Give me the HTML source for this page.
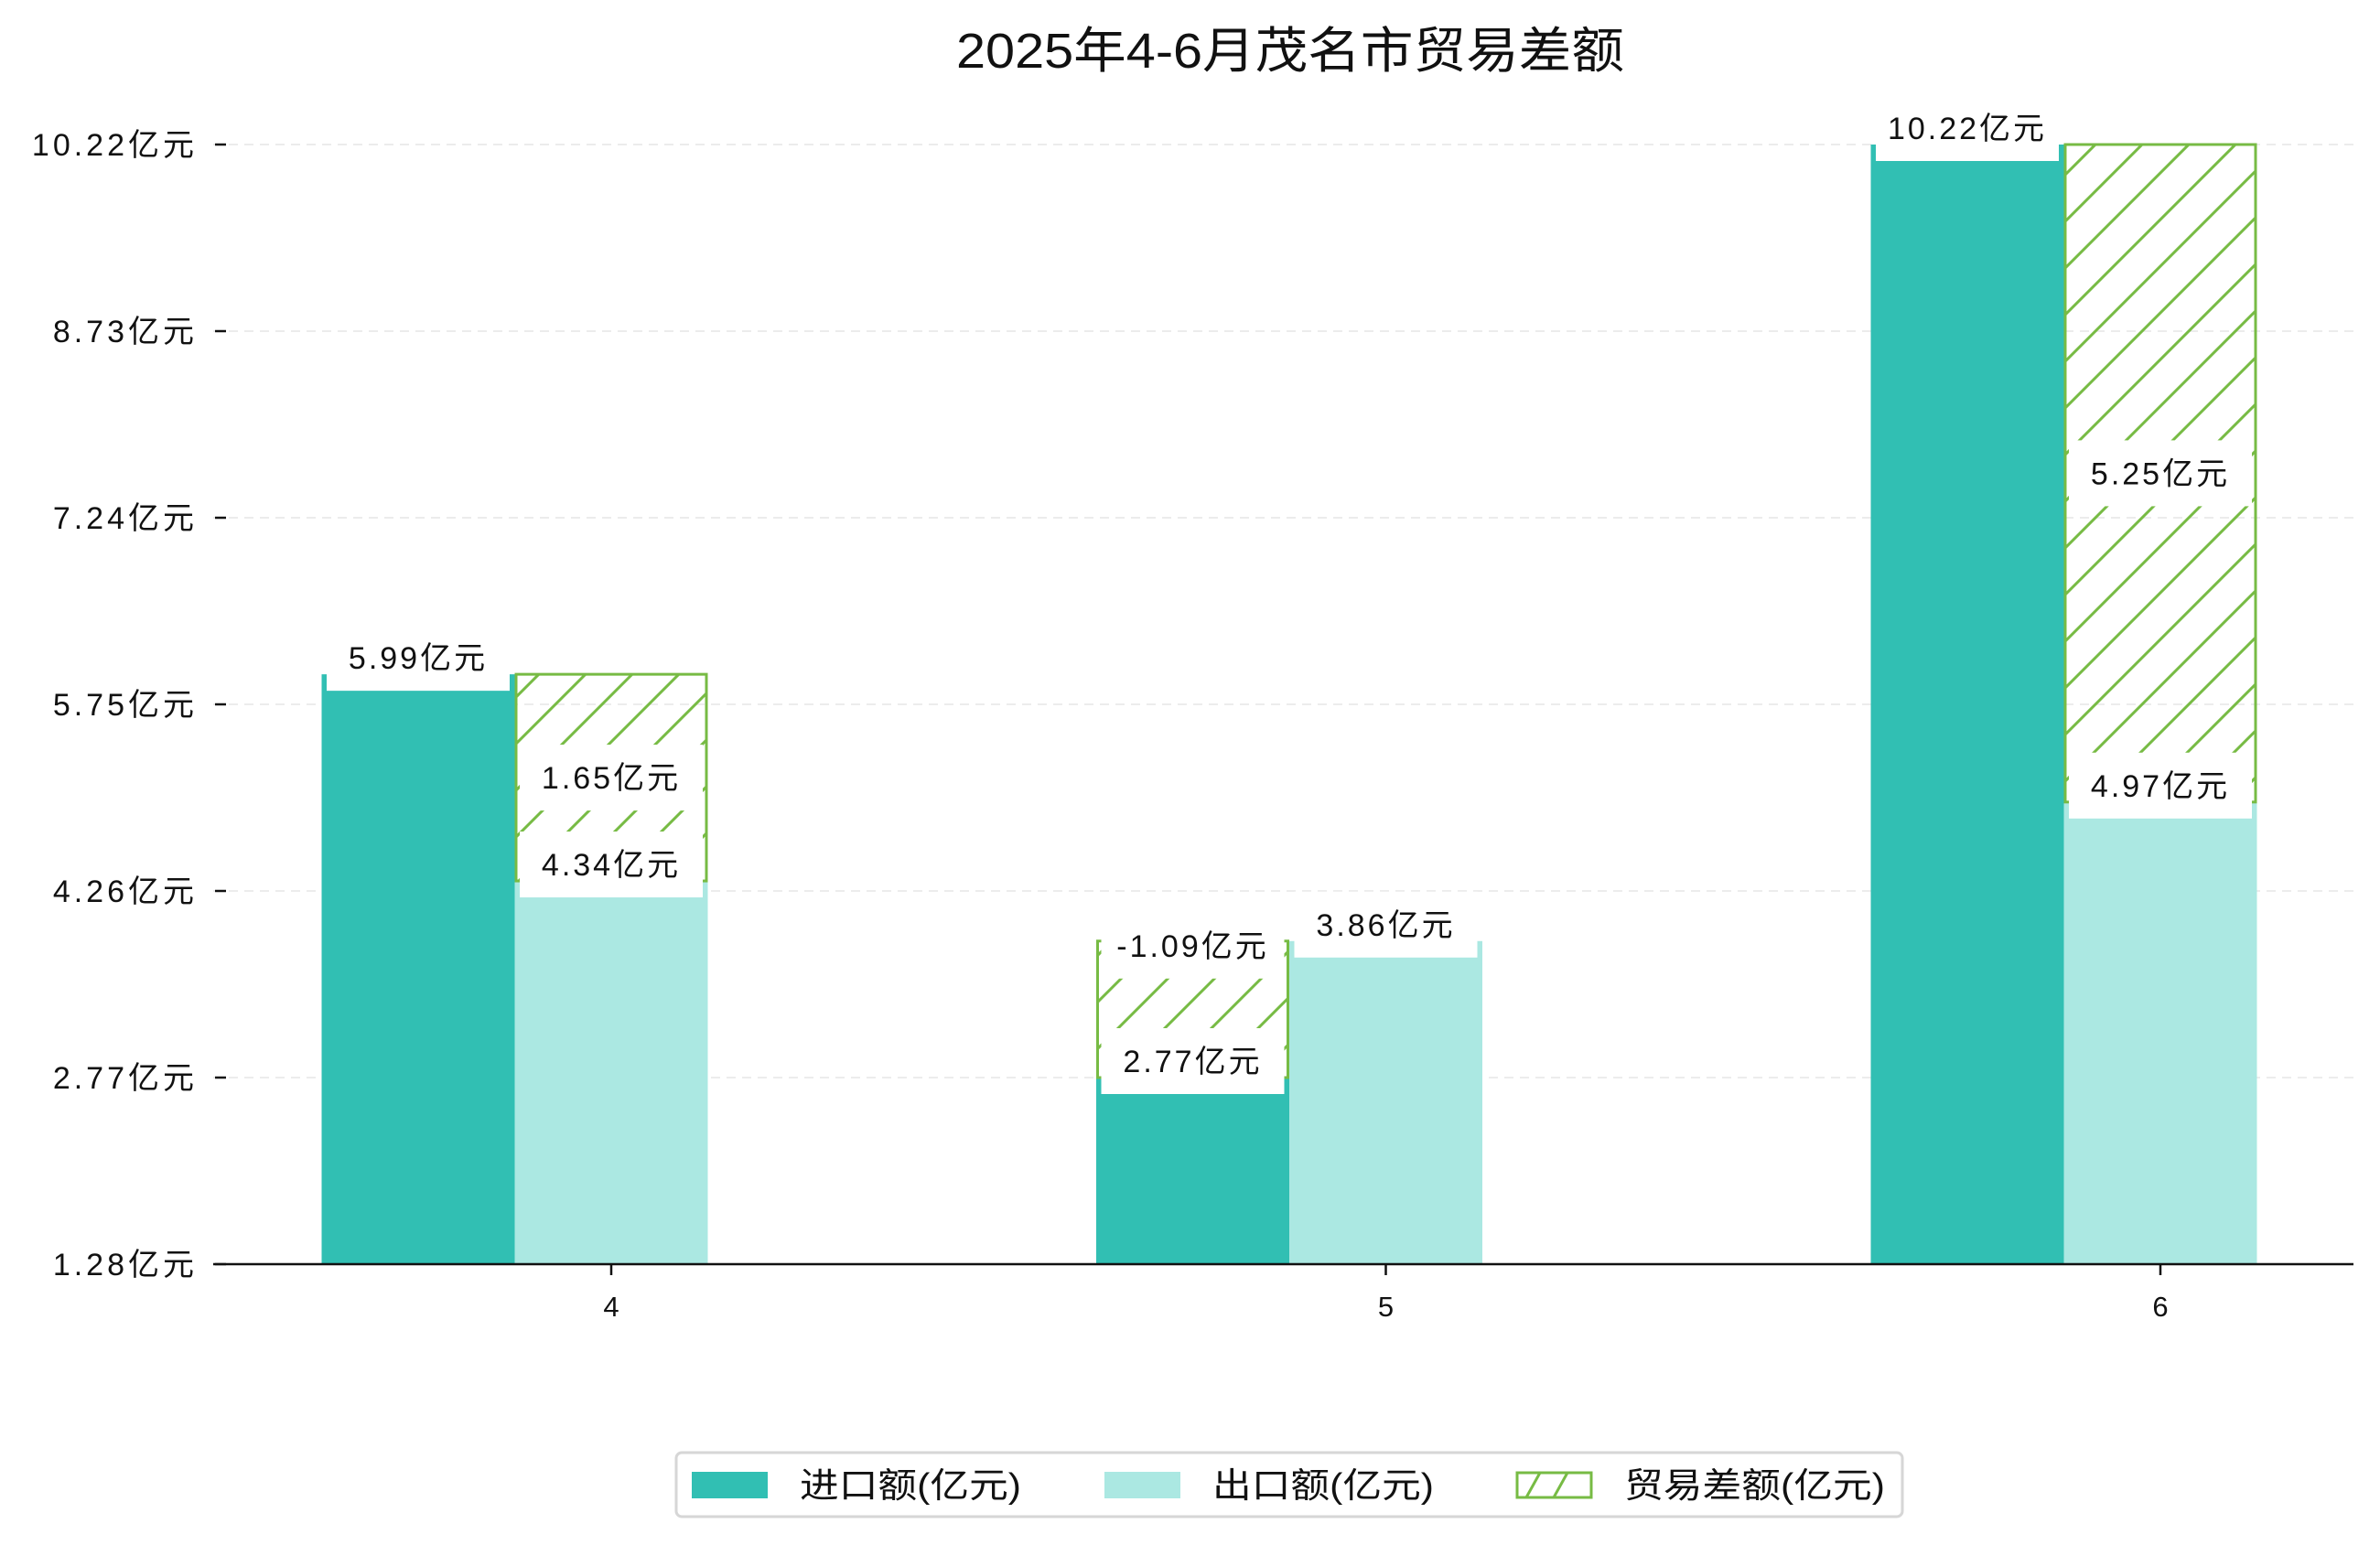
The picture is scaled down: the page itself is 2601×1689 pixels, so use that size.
<!DOCTYPE html>
<html><head><meta charset="utf-8">
<style>
html,body{margin:0;padding:0;background:#fff;}
svg{display:block;}
text{font-family:"Liberation Sans","Noto Sans CJK SC",sans-serif;fill:#111;}
</style></head>
<body>
<svg id="chart" width="2601" height="1689" viewBox="0 0 2601 1689" xmlns="http://www.w3.org/2000/svg">
<defs>
<pattern id="hatch" patternUnits="userSpaceOnUse" width="51" height="51">
<path d="M-5,56 L56,-5 M-5,5 L5,-5 M46,56 L56,46" stroke="#77bb44" stroke-width="3"/>
</pattern>
</defs>
<text x="1410" y="74" font-size="54" text-anchor="middle" textLength="730" lengthAdjust="spacingAndGlyphs">2025年4-6月茂名市贸易差额</text>
<g id="grid"></g>
<g id="bars"></g>
<g id="labels"></g>
<g id="axes"></g>
<g>
<rect x="739" y="1588" width="1340" height="70" rx="6" fill="#fff" stroke="#d6d6d6" stroke-width="3"/>
<rect x="756" y="1609" width="83" height="29" fill="#31bfb3"/>
<text x="874" y="1637" font-size="38" textLength="242" lengthAdjust="spacingAndGlyphs">进口额(亿元)</text>
<rect x="1207" y="1609" width="83" height="29" fill="#abe8e2"/>
<text x="1325" y="1637" font-size="38" textLength="242" lengthAdjust="spacingAndGlyphs">出口额(亿元)</text>
<rect x="1658" y="1610" width="81" height="27" fill="#fff" stroke="#77bb44" stroke-width="3"/>
<path d="M1668,1637 L1683,1610 M1698,1637 L1713,1610" stroke="#77bb44" stroke-width="3"/>
<text x="1775" y="1637" font-size="38" textLength="285" lengthAdjust="spacingAndGlyphs">贸易差额(亿元)</text>
</g>
</svg>
<script>
const months = ['4','5','6'];
const importVals = [5.99, 2.77, 10.22];
const exportVals = [4.34, 3.86, 4.97];
const balanceVals = [1.65, -1.09, 5.25];
const yTicks = [1.28, 2.77, 4.26, 5.75, 7.24, 8.73, 10.22];
const yTickLabels = ['1.28亿元','2.77亿元','4.26亿元','5.75亿元','7.24亿元','8.73亿元','10.22亿元'];

const NS='http://www.w3.org/2000/svg';
const X0=233, X1=2572, Y0=1382, Ytop=158;
const yMin=1.28, yMax=10.22;
const W=211;
function y(v){return Y0-(v-yMin)/(yMax-yMin)*(Y0-Ytop);}
function xc(i){return 668+i*846.5;}
function mk(tag,attrs,parent){const e=document.createElementNS(NS,tag);for(const k in attrs)e.setAttribute(k,attrs[k]);parent.appendChild(e);return e;}
const grid=document.getElementById('grid'),bars=document.getElementById('bars'),labels=document.getElementById('labels'),axes=document.getElementById('axes');

yTicks.forEach((t,i)=>{
  const g=mk('line',{x1:X0,x2:X1,y1:y(t),y2:y(t),stroke:'#ececec','stroke-width':2,'stroke-dasharray':'10,7'},grid);
  
  
  const tk=mk('line',{x1:X0+2,x2:X0+14,y1:y(t),y2:y(t),stroke:'#111','stroke-width':2.5},axes);
  
  
  const tl=mk('text',{x:X0-17,y:y(t)+12,'font-size':34,'text-anchor':'end','letter-spacing':'4'},axes);
  tl.textContent=yTickLabels[i];
  
  
});
const base=mk('line',{x1:X0,x2:X1,y1:Y0,y2:Y0,stroke:'#111','stroke-width':2.5},axes);



function label(txt,cx,cy){
  const r=mk('rect',{x:cx-100,y:cy-36,width:200,height:72,fill:'#fff'},labels);
  
  
  const t=mk('text',{x:cx,y:cy+12,'font-size':34,'text-anchor':'middle','letter-spacing':'3'},labels);
  t.textContent=txt;
  
  
}

months.forEach((m,i)=>{
  const c=xc(i);
  const xi=c-1.5*W, xe=c-0.5*W;
  const bi=mk('rect',{x:xi,y:y(importVals[i]),width:W,height:Y0-y(importVals[i]),fill:'#31bfb3'},bars);
  
  
  const be=mk('rect',{x:xe,y:y(exportVals[i]),width:W,height:Y0-y(exportVals[i]),fill:'#abe8e2'},bars);
  
  
  const bal=balanceVals[i];
  const lo=bal>=0?exportVals[i]:importVals[i];
  const hi=lo+Math.abs(bal);
  const hx=bal>=0?xe:xi;
  const bh=mk('rect',{x:hx+1.5,y:y(hi),width:W-3,height:y(lo)-y(hi),fill:'url(#hatch)',stroke:'#77bb44','stroke-width':3},bars);
  
  
  label(importVals[i].toFixed(2)+'亿元', xi+W/2, y(importVals[i])-18);
  label(exportVals[i].toFixed(2)+'亿元', xe+W/2, y(exportVals[i])-18);
  const bcy = bal>=0 ? (y(hi)+y(lo))/2 : y(hi)+5;
  label(bal.toFixed(2)+'亿元', hx+W/2, bcy);
  const xt=mk('line',{x1:c,x2:c,y1:Y0,y2:Y0+12,stroke:'#111','stroke-width':2.5},axes);
  
  
  const xl=mk('text',{x:c,y:Y0+57,'font-size':31,'text-anchor':'middle'},axes);
  xl.textContent=m;
  
  
});
</script>
</body></html>
